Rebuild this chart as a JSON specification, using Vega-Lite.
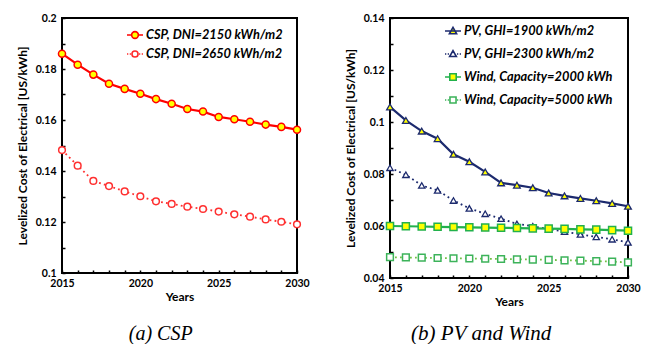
{
  "$schema": "https://vega.github.io/schema/vega-lite/v6.json",
  "background": "white",
  "padding": {"left": 15, "top": 5, "right": 5, "bottom": 0},
  "datasets": {
    "csp": [
      {"year": 2015, "series": "CSP, DNI=2150 kWh/m2", "value": 0.1860},
      {"year": 2016, "series": "CSP, DNI=2150 kWh/m2", "value": 0.1817},
      {"year": 2017, "series": "CSP, DNI=2150 kWh/m2", "value": 0.1778},
      {"year": 2018, "series": "CSP, DNI=2150 kWh/m2", "value": 0.1742},
      {"year": 2019, "series": "CSP, DNI=2150 kWh/m2", "value": 0.1722},
      {"year": 2020, "series": "CSP, DNI=2150 kWh/m2", "value": 0.1703},
      {"year": 2021, "series": "CSP, DNI=2150 kWh/m2", "value": 0.1682},
      {"year": 2022, "series": "CSP, DNI=2150 kWh/m2", "value": 0.1664},
      {"year": 2023, "series": "CSP, DNI=2150 kWh/m2", "value": 0.1643},
      {"year": 2024, "series": "CSP, DNI=2150 kWh/m2", "value": 0.1633},
      {"year": 2025, "series": "CSP, DNI=2150 kWh/m2", "value": 0.1612},
      {"year": 2026, "series": "CSP, DNI=2150 kWh/m2", "value": 0.1603},
      {"year": 2027, "series": "CSP, DNI=2150 kWh/m2", "value": 0.1593},
      {"year": 2028, "series": "CSP, DNI=2150 kWh/m2", "value": 0.1582},
      {"year": 2029, "series": "CSP, DNI=2150 kWh/m2", "value": 0.1573},
      {"year": 2030, "series": "CSP, DNI=2150 kWh/m2", "value": 0.1562},
      {"year": 2015, "series": "CSP, DNI=2650 kWh/m2", "value": 0.1482},
      {"year": 2016, "series": "CSP, DNI=2650 kWh/m2", "value": 0.1421},
      {"year": 2017, "series": "CSP, DNI=2650 kWh/m2", "value": 0.1361},
      {"year": 2018, "series": "CSP, DNI=2650 kWh/m2", "value": 0.1341},
      {"year": 2019, "series": "CSP, DNI=2650 kWh/m2", "value": 0.1320},
      {"year": 2020, "series": "CSP, DNI=2650 kWh/m2", "value": 0.1301},
      {"year": 2021, "series": "CSP, DNI=2650 kWh/m2", "value": 0.1281},
      {"year": 2022, "series": "CSP, DNI=2650 kWh/m2", "value": 0.1271},
      {"year": 2023, "series": "CSP, DNI=2650 kWh/m2", "value": 0.1260},
      {"year": 2024, "series": "CSP, DNI=2650 kWh/m2", "value": 0.1251},
      {"year": 2025, "series": "CSP, DNI=2650 kWh/m2", "value": 0.1241},
      {"year": 2026, "series": "CSP, DNI=2650 kWh/m2", "value": 0.1230},
      {"year": 2027, "series": "CSP, DNI=2650 kWh/m2", "value": 0.1221},
      {"year": 2028, "series": "CSP, DNI=2650 kWh/m2", "value": 0.1210},
      {"year": 2029, "series": "CSP, DNI=2650 kWh/m2", "value": 0.1201},
      {"year": 2030, "series": "CSP, DNI=2650 kWh/m2", "value": 0.1191}
    ],
    "pvwind": [
      {"year": 2015, "series": "PV, GHI=1900 kWh/m2", "value": 0.1058},
      {"year": 2016, "series": "PV, GHI=1900 kWh/m2", "value": 0.1006},
      {"year": 2017, "series": "PV, GHI=1900 kWh/m2", "value": 0.0965},
      {"year": 2018, "series": "PV, GHI=1900 kWh/m2", "value": 0.0936},
      {"year": 2019, "series": "PV, GHI=1900 kWh/m2", "value": 0.0876},
      {"year": 2020, "series": "PV, GHI=1900 kWh/m2", "value": 0.0847},
      {"year": 2021, "series": "PV, GHI=1900 kWh/m2", "value": 0.0808},
      {"year": 2022, "series": "PV, GHI=1900 kWh/m2", "value": 0.0766},
      {"year": 2023, "series": "PV, GHI=1900 kWh/m2", "value": 0.0757},
      {"year": 2024, "series": "PV, GHI=1900 kWh/m2", "value": 0.0747},
      {"year": 2025, "series": "PV, GHI=1900 kWh/m2", "value": 0.0727},
      {"year": 2026, "series": "PV, GHI=1900 kWh/m2", "value": 0.0716},
      {"year": 2027, "series": "PV, GHI=1900 kWh/m2", "value": 0.0706},
      {"year": 2028, "series": "PV, GHI=1900 kWh/m2", "value": 0.0697},
      {"year": 2029, "series": "PV, GHI=1900 kWh/m2", "value": 0.0687},
      {"year": 2030, "series": "PV, GHI=1900 kWh/m2", "value": 0.0676},
      {"year": 2015, "series": "PV, GHI=2300 kWh/m2", "value": 0.0824},
      {"year": 2016, "series": "PV, GHI=2300 kWh/m2", "value": 0.0797},
      {"year": 2017, "series": "PV, GHI=2300 kWh/m2", "value": 0.0756},
      {"year": 2018, "series": "PV, GHI=2300 kWh/m2", "value": 0.0737},
      {"year": 2019, "series": "PV, GHI=2300 kWh/m2", "value": 0.0698},
      {"year": 2020, "series": "PV, GHI=2300 kWh/m2", "value": 0.0668},
      {"year": 2021, "series": "PV, GHI=2300 kWh/m2", "value": 0.0647},
      {"year": 2022, "series": "PV, GHI=2300 kWh/m2", "value": 0.0628},
      {"year": 2023, "series": "PV, GHI=2300 kWh/m2", "value": 0.0608},
      {"year": 2024, "series": "PV, GHI=2300 kWh/m2", "value": 0.0599},
      {"year": 2025, "series": "PV, GHI=2300 kWh/m2", "value": 0.0588},
      {"year": 2026, "series": "PV, GHI=2300 kWh/m2", "value": 0.0578},
      {"year": 2027, "series": "PV, GHI=2300 kWh/m2", "value": 0.0568},
      {"year": 2028, "series": "PV, GHI=2300 kWh/m2", "value": 0.0558},
      {"year": 2029, "series": "PV, GHI=2300 kWh/m2", "value": 0.0549},
      {"year": 2030, "series": "PV, GHI=2300 kWh/m2", "value": 0.0537},
      {"year": 2015, "series": "Wind, Capacity=2000 kWh", "value": 0.0600},
      {"year": 2016, "series": "Wind, Capacity=2000 kWh", "value": 0.0599},
      {"year": 2017, "series": "Wind, Capacity=2000 kWh", "value": 0.0598},
      {"year": 2018, "series": "Wind, Capacity=2000 kWh", "value": 0.0597},
      {"year": 2019, "series": "Wind, Capacity=2000 kWh", "value": 0.0596},
      {"year": 2020, "series": "Wind, Capacity=2000 kWh", "value": 0.0595},
      {"year": 2021, "series": "Wind, Capacity=2000 kWh", "value": 0.0594},
      {"year": 2022, "series": "Wind, Capacity=2000 kWh", "value": 0.0593},
      {"year": 2023, "series": "Wind, Capacity=2000 kWh", "value": 0.0592},
      {"year": 2024, "series": "Wind, Capacity=2000 kWh", "value": 0.0591},
      {"year": 2025, "series": "Wind, Capacity=2000 kWh", "value": 0.0590},
      {"year": 2026, "series": "Wind, Capacity=2000 kWh", "value": 0.0589},
      {"year": 2027, "series": "Wind, Capacity=2000 kWh", "value": 0.0587},
      {"year": 2028, "series": "Wind, Capacity=2000 kWh", "value": 0.0586},
      {"year": 2029, "series": "Wind, Capacity=2000 kWh", "value": 0.0584},
      {"year": 2030, "series": "Wind, Capacity=2000 kWh", "value": 0.0582},
      {"year": 2015, "series": "Wind, Capacity=5000 kWh", "value": 0.0480},
      {"year": 2016, "series": "Wind, Capacity=5000 kWh", "value": 0.0479},
      {"year": 2017, "series": "Wind, Capacity=5000 kWh", "value": 0.0478},
      {"year": 2018, "series": "Wind, Capacity=5000 kWh", "value": 0.0477},
      {"year": 2019, "series": "Wind, Capacity=5000 kWh", "value": 0.0476},
      {"year": 2020, "series": "Wind, Capacity=5000 kWh", "value": 0.0475},
      {"year": 2021, "series": "Wind, Capacity=5000 kWh", "value": 0.0474},
      {"year": 2022, "series": "Wind, Capacity=5000 kWh", "value": 0.0473},
      {"year": 2023, "series": "Wind, Capacity=5000 kWh", "value": 0.0472},
      {"year": 2024, "series": "Wind, Capacity=5000 kWh", "value": 0.0471},
      {"year": 2025, "series": "Wind, Capacity=5000 kWh", "value": 0.0470},
      {"year": 2026, "series": "Wind, Capacity=5000 kWh", "value": 0.0468},
      {"year": 2027, "series": "Wind, Capacity=5000 kWh", "value": 0.0467},
      {"year": 2028, "series": "Wind, Capacity=5000 kWh", "value": 0.0465},
      {"year": 2029, "series": "Wind, Capacity=5000 kWh", "value": 0.0463},
      {"year": 2030, "series": "Wind, Capacity=5000 kWh", "value": 0.0460}
    ]
  },
  "config": {
    "view": {"stroke": "#000000", "strokeWidth": 2},
    "axis": {
      "domain": false, "grid": false,
      "labelFont": "Lato", "labelFontWeight": "bold", "labelFontSize": 10.5, "labelColor": "#000000",
      "titleFont": "Lato", "titleFontWeight": "bold", "titleFontSize": 12, "titleColor": "#000000",
      "tickColor": "#000000", "tickSize": -3, "tickWidth": 1.5
    },
    "legend": {
      "labelFont": "Lato", "labelFontWeight": "bold", "labelFontStyle": "italic", "labelFontSize": 12.8, "labelColor": "#000000",
      "symbolSize": 256, "symbolStrokeWidth": 1.6, "symbolOpacity": 1, "labelOffset": 2
    },
    "title": {"font": "Liberation Serif", "fontStyle": "italic", "fontWeight": "normal", "fontSize": 21, "color": "#000000"}
  },
  "resolve": {
    "scale": {"shape": "independent", "stroke": "independent", "fill": "independent", "x": "independent", "y": "independent"},
    "legend": {"shape": "independent", "stroke": "independent", "fill": "independent"}
  },
  "spacing": 32,
  "hconcat": [
    {
      "title": {"text": " ", "orient": "top", "fontSize": 1, "offset": 6},
      "vconcat": [
        {
          "width": 235, "height": 255,
          "data": {"name": "csp"},
          "title": {"text": "(a) CSP", "orient": "bottom", "anchor": "middle", "frame": "bounds", "offset": 21, "dx": -2, "fontSize": 20},
          "encoding": {
            "x": {"field": "year", "type": "quantitative", "scale": {"domain": [2015, 2030], "nice": false, "zero": false},
              "axis": {"title": "Years", "values": [2015,2016,2017,2018,2019,2020,2021,2022,2023,2024,2025,2026,2027,2028,2029,2030],
                "labelExpr": "datum.value % 5 == 0 ? format(datum.value, 'd') : ''", "labelFlush": false, "labelPadding": 8, "titlePadding": 3}},
            "y": {"field": "value", "type": "quantitative", "scale": {"domain": [0.1, 0.2], "nice": false, "zero": false},
              "axis": {"title": "Levelized Cost of Electrical [US/kWh]", "values": [0.1,0.11,0.12,0.13,0.14,0.15,0.16,0.17,0.18,0.19,0.2],
                "labelExpr": "round(datum.value*100) % 2 == 0 ? format(datum.value, '~g') : ''", "labelPadding": 9, "titlePadding": 6}}
          },
          "layer": [
            {
              "mark": {"type": "point", "opacity": 0},
              "encoding": {
                "shape": {"field": "series", "type": "nominal",
                  "scale": {"domain": ["CSP, DNI=2150 kWh/m2", "CSP, DNI=2650 kWh/m2"],
                    "range": ["M-1,0H-0.42M0.42,0H1M-0.42,0A0.42,0.42 0 1,0 0.42,0A0.42,0.42 0 1,0 -0.42,0Z",
                              "M-1,0H-0.84M-0.66,0H-0.5M0.5,0H0.66M0.84,0H1M-0.38,0A0.38,0.38 0 1,0 0.38,0A0.38,0.38 0 1,0 -0.38,0Z"]},
                  "legend": {"title": null, "orient": "none", "legendX": 64, "legendY": 8, "rowPadding": 3}},
                "stroke": {"field": "series", "type": "nominal",
                  "scale": {"domain": ["CSP, DNI=2150 kWh/m2", "CSP, DNI=2650 kWh/m2"], "range": ["#ff0000", "#ff2a2a"]},
                  "legend": {"title": null, "orient": "none", "legendX": 64, "legendY": 8, "rowPadding": 3}},
                "fill": {"field": "series", "type": "nominal",
                  "scale": {"domain": ["CSP, DNI=2150 kWh/m2", "CSP, DNI=2650 kWh/m2"], "range": ["#ffff00", "#ffffff"]},
                  "legend": {"title": null, "orient": "none", "legendX": 64, "legendY": 8, "rowPadding": 3}}
              }
            },
            {
              "transform": [{"filter": "datum.series == 'CSP, DNI=2150 kWh/m2'"}],
              "mark": {"type": "line", "color": "#ff0000", "strokeWidth": 2.2}
            },
            {
              "transform": [{"filter": "datum.series == 'CSP, DNI=2150 kWh/m2'"}],
              "mark": {"type": "point", "shape": "circle", "filled": true, "fill": "#ffff00", "stroke": "#ff0000", "strokeWidth": 1.5, "size": 50, "opacity": 1}
            },
            {
              "transform": [{"filter": "datum.series == 'CSP, DNI=2650 kWh/m2'"}],
              "mark": {"type": "line", "color": "#ff3030", "strokeWidth": 1.8, "strokeDash": [1.8, 3.2]}
            },
            {
              "transform": [{"filter": "datum.series == 'CSP, DNI=2650 kWh/m2'"}],
              "mark": {"type": "point", "shape": "circle", "filled": true, "fill": "#ffffff", "stroke": "#ff3030", "strokeWidth": 1.5, "size": 45, "opacity": 1}
            }
          ]
        }
      ]
    },
    {
      "width": 238, "height": 260,
      "data": {"name": "pvwind"},
      "title": {"text": "(b) PV and Wind", "orient": "bottom", "anchor": "middle", "frame": "bounds", "offset": 15, "dx": -11},
      "encoding": {
        "x": {"field": "year", "type": "quantitative", "scale": {"domain": [2015, 2030], "nice": false, "zero": false},
          "axis": {"title": "Years", "values": [2015,2016,2017,2018,2019,2020,2021,2022,2023,2024,2025,2026,2027,2028,2029,2030],
            "labelExpr": "datum.value % 5 == 0 ? format(datum.value, 'd') : ''", "labelFlush": false, "labelPadding": 8, "titlePadding": 3}},
        "y": {"field": "value", "type": "quantitative", "scale": {"domain": [0.04, 0.14], "nice": false, "zero": false},
          "axis": {"title": "Levelized Cost of Electrical [US/kWh]", "values": [0.04,0.05,0.06,0.07,0.08,0.09,0.1,0.11,0.12,0.13,0.14],
            "labelExpr": "round(datum.value*100) % 2 == 0 ? format(datum.value, '~g') : ''", "labelPadding": 9, "titlePadding": 6}}
      },
      "layer": [
        {
          "mark": {"type": "point", "opacity": 0},
          "encoding": {
            "shape": {"field": "series", "type": "nominal",
              "scale": {"domain": ["PV, GHI=1900 kWh/m2", "PV, GHI=2300 kWh/m2", "Wind, Capacity=2000 kWh", "Wind, Capacity=5000 kWh"],
                "range": ["M-1,0H1M0,-0.45L0.45,0.35L-0.45,0.35Z",
                          "M-1,0H-0.84M-0.66,0H-0.5M0.5,0H0.66M0.84,0H1M0,-0.42L0.42,0.32L-0.42,0.32Z",
                          "M-1,0H-0.4M0.4,0H1M-0.4,-0.4H0.4V0.4H-0.4Z",
                          "M-1,0H-0.84M-0.66,0H-0.5M0.5,0H0.66M0.84,0H1M-0.38,-0.38H0.38V0.38H-0.38Z"]},
              "legend": {"title": null, "orient": "none", "legendX": 54, "legendY": 4, "rowPadding": 7}},
            "stroke": {"field": "series", "type": "nominal",
              "scale": {"domain": ["PV, GHI=1900 kWh/m2", "PV, GHI=2300 kWh/m2", "Wind, Capacity=2000 kWh", "Wind, Capacity=5000 kWh"],
                "range": ["#1c2a6e", "#1c2a6e", "#22b14c", "#3cb35a"]},
              "legend": {"title": null, "orient": "none", "legendX": 54, "legendY": 4, "rowPadding": 7}},
            "fill": {"field": "series", "type": "nominal",
              "scale": {"domain": ["PV, GHI=1900 kWh/m2", "PV, GHI=2300 kWh/m2", "Wind, Capacity=2000 kWh", "Wind, Capacity=5000 kWh"],
                "range": ["#ffff00", "#ffffff", "#ffff00", "#ffffff"]},
              "legend": {"title": null, "orient": "none", "legendX": 54, "legendY": 4, "rowPadding": 7}}
          }
        },
        {
          "transform": [{"filter": "datum.series == 'Wind, Capacity=5000 kWh'"}],
          "mark": {"type": "line", "color": "#72c045", "strokeWidth": 1.8, "strokeDash": [1.8, 3.2]}
        },
        {
          "transform": [{"filter": "datum.series == 'Wind, Capacity=5000 kWh'"}],
          "mark": {"type": "point", "shape": "square", "filled": true, "fill": "#ffffff", "stroke": "#3cb35a", "strokeWidth": 1.5, "size": 45, "opacity": 1}
        },
        {
          "transform": [{"filter": "datum.series == 'PV, GHI=2300 kWh/m2'"}],
          "mark": {"type": "line", "color": "#1c2a6e", "strokeWidth": 1.8, "strokeDash": [1.8, 3.2]}
        },
        {
          "transform": [{"filter": "datum.series == 'PV, GHI=2300 kWh/m2'"}],
          "mark": {"type": "point", "shape": "triangle-up", "filled": true, "fill": "#ffffff", "stroke": "#1c2a6e", "strokeWidth": 1.3, "size": 40, "opacity": 1}
        },
        {
          "transform": [{"filter": "datum.series == 'Wind, Capacity=2000 kWh'"}],
          "mark": {"type": "line", "color": "#22b14c", "strokeWidth": 2.2}
        },
        {
          "transform": [{"filter": "datum.series == 'Wind, Capacity=2000 kWh'"}],
          "mark": {"type": "point", "shape": "square", "filled": true, "fill": "#ffff00", "stroke": "#22b14c", "strokeWidth": 1.5, "size": 50, "opacity": 1}
        },
        {
          "transform": [{"filter": "datum.series == 'PV, GHI=1900 kWh/m2'"}],
          "mark": {"type": "line", "color": "#1c2a6e", "strokeWidth": 2.2}
        },
        {
          "transform": [{"filter": "datum.series == 'PV, GHI=1900 kWh/m2'"}],
          "mark": {"type": "point", "shape": "triangle-up", "filled": true, "fill": "#ffff00", "stroke": "#1c2a6e", "strokeWidth": 1.3, "size": 45, "opacity": 1}
        }
      ]
    }
  ]
}
